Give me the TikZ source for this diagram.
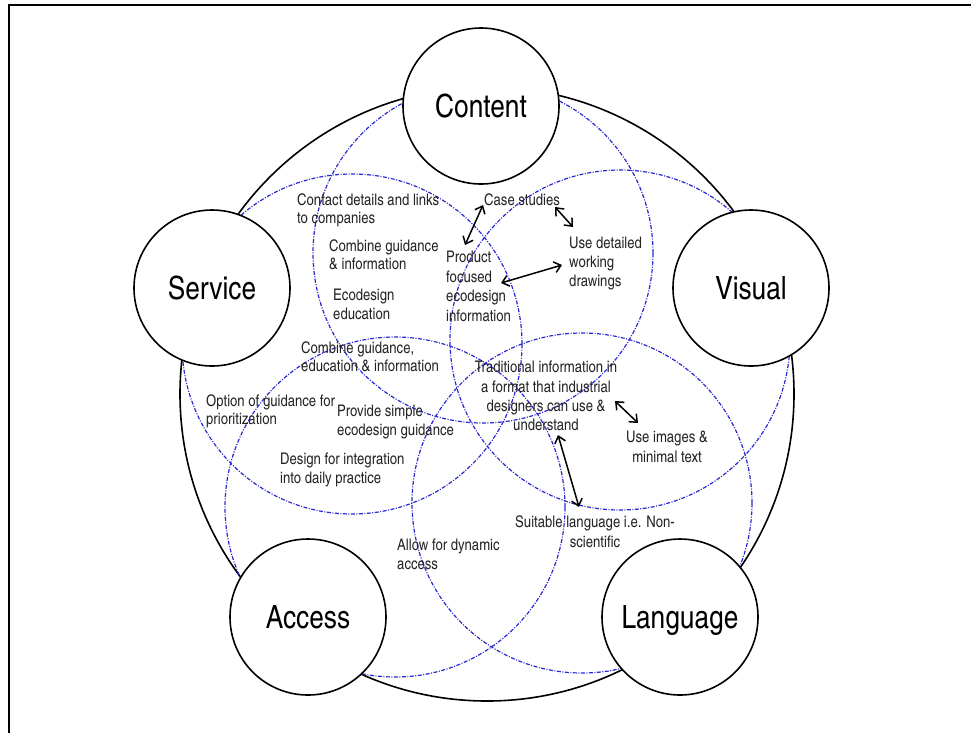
\documentclass[tikz,border=0pt]{standalone}
\usepackage{fontspec}
\setmainfont{texgyreheroscn-regular.otf}
\usetikzlibrary{arrows.meta}
\definecolor{zoneblue}{RGB}{40,40,210}
\definecolor{txt}{RGB}{35,35,35}
\tikzset{
  topic/.style={circle, draw=black, line width=1.6pt, fill=white, minimum size=156pt, inner sep=0pt, text height=23pt, text depth=0pt, font=\fontsize{32}{36}\selectfont},
  zone/.style={draw=zoneblue, line width=1.2pt, dash pattern=on 4pt off 1.5pt on 1pt off 1.5pt},
  lbl/.style={font=\fontsize{16}{18.5}\selectfont, text=txt, inner sep=0pt, align=left, anchor=north west},
  lblc/.style={font=\fontsize{16}{19.3}\selectfont, text=txt, inner sep=0pt, align=center, anchor=north},
  dbl/.style={{Straight Barb[length=6.5pt,width=11pt]}-{Straight Barb[length=6.5pt,width=11pt]}, line width=1.5pt, black}
}
\begin{document}
\begin{tikzpicture}[x=1pt,y=-1pt]
\useasboundingbox (0,0) rectangle (971,732);
% frame
\draw[line width=2pt] (9,733) -- (9,5) -- (972,5);
% outer circle
\draw[line width=1.6pt] (487,394) circle[radius=307pt];
% zones
\draw[zone] (483,253) circle[radius=170pt];
\draw[zone] (352,344) circle[radius=170pt];
\draw[zone] (620,340) circle[radius=170pt];
\draw[zone] (395,507) circle[radius=170pt];
\draw[zone] (582,503) circle[radius=170pt];
% topic circles
\node[topic] (content) at (481,106) {Content};
\node[topic] (service) at (212,288) {Service};
\node[topic] (visual) at (751,288) {Visual};
\node[topic] (access) at (308,617) {Access};
\node[topic] (language) at (680,617) {Language};
% labels
\node[lbl] (contact) at (297,193) {Contact details and links\\to companies};
\node[lbl] (combgi) at (329,239) {Combine guidance\\\& information};
\node[lbl] (eco) at (333,289) {Ecodesign\\education};
\node[lbl, font=\fontsize{16}{19.5}\selectfont] (product) at (446,251) {Product\\focused\\ecodesign\\information};
\node[lbl] (case) at (484,193) {Case studies};
\node[lbl, font=\fontsize{16}{19}\selectfont] (drawings) at (569,237) {Use detailed\\working\\drawings};
\node[lbl] (combgei) at (301,341) {Combine guidance,\\education \& information};
\node[lbl] (option) at (206,394) {Option of guidance for\\prioritization};
\node[lbl, font=\fontsize{16}{19}\selectfont] (simple) at (337,405) {Provide simple\\ecodesign guidance};
\node[lbl, font=\fontsize{16}{19}\selectfont] (daily) at (280,453) {Design for integration\\into daily practice};
\node[lblc] (trad) at (546,361) {Traditional information in\\a format that industrial\\designers can use \&\\understand};
\node[lblc, font=\fontsize{16}{20}\selectfont] (images) at (667,431) {Use images \&\\minimal text};
\node[lblc, font=\fontsize{16}{20}\selectfont] (suitable) at (595,515) {Suitable language i.e. Non-\\scientific};
\node[lbl] (dynamic) at (397,539) {Allow for dynamic\\access};
% arrow ends
\coordinate (a1s) at (483,205);
\coordinate (a1e) at (465,245);
\coordinate (a2s) at (555,207);
\coordinate (a2e) at (573,227);
\coordinate (a3s) at (501,283);
\coordinate (a3e) at (562,265);
\coordinate (a4s) at (615,401);
\coordinate (a4e) at (638,423);
\coordinate (a5s) at (558,435);
\coordinate (a5e) at (579,507);
\draw[dbl] (a1s) -- (a1e);
\draw[dbl] (a2s) -- (a2e);
\draw[dbl] (a3s) -- (a3e);
\draw[dbl] (a4s) -- (a4e);
\draw[dbl] (a5s) -- (a5e);
\end{tikzpicture}
\end{document}
